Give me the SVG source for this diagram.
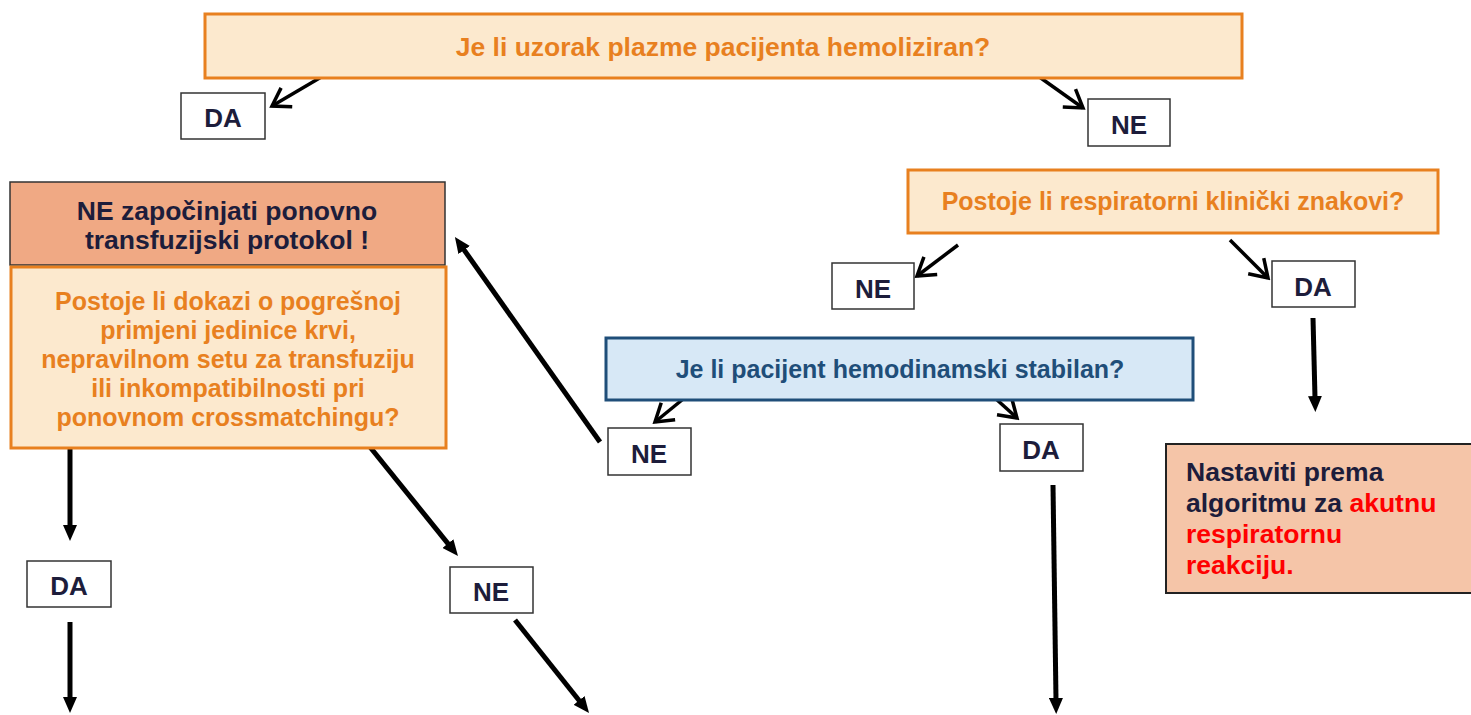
<svg xmlns="http://www.w3.org/2000/svg" width="1471" height="715" viewBox="0 0 1471 715">
<style>
text{font-family:"Liberation Sans",Arial,sans-serif;font-weight:bold;font-size:25px}
.c{text-anchor:middle}
.big{font-size:26.5px}
.q{fill:#FCE9CE;stroke:#E8801F;stroke-width:3}
.qt{fill:#E8801F}
.lbl{fill:#fff;stroke:#333;stroke-width:1.5}
.lt{font-size:26px}
.dk{fill:#1D1D3B}
.red{fill:#FF0000}
.thin{stroke:#000;stroke-width:3.5;fill:none;marker-end:url(#open)}
.thick{stroke:#000;stroke-width:5;fill:none;marker-end:url(#solid)}
</style>
<defs>
<marker id="open" viewBox="0 0 22 26" refX="19" refY="13" markerWidth="22" markerHeight="26" markerUnits="userSpaceOnUse" orient="auto">
<path d="M2,2 L19,13 L2,24" fill="none" stroke="#000" stroke-width="3.5" stroke-linejoin="miter"/>
</marker>
<marker id="solid" viewBox="0 0 16 14" refX="2" refY="7" markerWidth="16" markerHeight="14" markerUnits="userSpaceOnUse" orient="auto">
<path d="M0,0 L16,7 L0,14 z" fill="#000"/>
</marker>
</defs>

<g id="connectors">
<line class="thin" x1="323" y1="76" x2="272" y2="106"/>
<line class="thin" x1="1038" y1="76" x2="1083" y2="108"/>
<line class="thin" x1="958" y1="245" x2="917" y2="276"/>
<line class="thin" x1="1230" y1="240" x2="1268" y2="278"/>
<line class="thin" x1="693" y1="391" x2="655" y2="422"/>
<line class="thin" x1="985" y1="389" x2="1017" y2="418"/>
<line class="thick" x1="600" y1="442" x2="463" y2="248.4"/>
<line class="thick" x1="1313" y1="318" x2="1315" y2="398"/>
<line class="thick" x1="1053" y1="485" x2="1056" y2="700"/>
<line class="thick" x1="70" y1="449" x2="70" y2="527"/>
<line class="thick" x1="70" y1="622" x2="70" y2="699"/>
<line class="thick" x1="370" y1="447" x2="449.2" y2="545.1"/>
<line class="thick" x1="515" y1="620" x2="580.3" y2="702"/>
</g>

<g id="q-hemoliziran">
<rect class="q" x="205" y="14" width="1037" height="64"/>
<text class="c qt big" x="723" y="56">Je li uzorak plazme pacijenta hemoliziran?</text>
</g>
<g id="da1">
<rect class="lbl" x="181" y="93" width="84" height="46"/>
<text class="c dk lt" x="223" y="127">DA</text>
</g>
<g id="ne1">
<rect class="lbl" x="1088" y="99" width="82" height="47"/>
<text class="c dk lt" x="1129" y="134">NE</text>
</g>
<g id="q-respiratorni">
<rect class="q" x="908" y="170" width="530" height="63"/>
<text class="c qt" x="1173" y="210">Postoje li respiratorni klinički znakovi?</text>
</g>
<g id="ne2">
<rect class="lbl" x="832" y="263" width="82" height="46"/>
<text class="c dk lt" x="873" y="298">NE</text>
</g>
<g id="da2">
<rect class="lbl" x="1272" y="261" width="83" height="46"/>
<text class="c dk lt" x="1313" y="296">DA</text>
</g>
<g id="q-stabilan">
<rect x="606" y="338" width="587" height="62" fill="#D7E8F6" stroke="#1F4E79" stroke-width="3"/>
<text class="c" x="900" y="378" fill="#1F4E79">Je li pacijent hemodinamski stabilan?</text>
</g>
<g id="ne3">
<rect class="lbl" x="608" y="428" width="83" height="47"/>
<text class="c dk lt" x="649" y="463">NE</text>
</g>
<g id="da3">
<rect class="lbl" x="1000" y="424" width="83" height="47"/>
<text class="c dk lt" x="1041" y="459">DA</text>
</g>
<g id="ne-zapocinjati">
<rect x="10" y="182" width="435" height="83" fill="#F0A984" stroke="#333" stroke-width="1.5"/>
<text class="c dk big" x="227" y="220">NE započinjati ponovno</text>
<text class="c dk big" x="227" y="249">transfuzijski protokol !</text>
</g>
<g id="q-dokazi">
<rect class="q" x="11" y="267" width="435" height="181"/>
<text class="c qt" x="228" y="310">Postoje li dokazi o pogrešnoj</text>
<text class="c qt" x="228" y="339">primjeni jedinice krvi,</text>
<text class="c qt" x="228" y="368">nepravilnom setu za transfuziju</text>
<text class="c qt" x="228" y="397">ili inkompatibilnosti pri</text>
<text class="c qt" x="228" y="426">ponovnom crossmatchingu?</text>
</g>
<g id="da4">
<rect class="lbl" x="27" y="561" width="84" height="46"/>
<text class="c dk lt" x="69" y="595">DA</text>
</g>
<g id="ne4">
<rect class="lbl" x="450" y="567" width="83" height="46"/>
<text class="c dk lt" x="491" y="601">NE</text>
</g>
<g id="nastaviti">
<rect x="1166" y="444" width="310" height="149" fill="#F5C5A8" stroke="#222" stroke-width="2"/>
<text class="dk big" x="1186" y="481">Nastaviti prema</text>
<text class="big" x="1186" y="512"><tspan class="dk">algoritmu za </tspan><tspan class="red">akutnu</tspan></text>
<text class="red big" x="1186" y="543">respiratornu</text>
<text class="red big" x="1186" y="574">reakciju.</text>
</g>
</svg>
